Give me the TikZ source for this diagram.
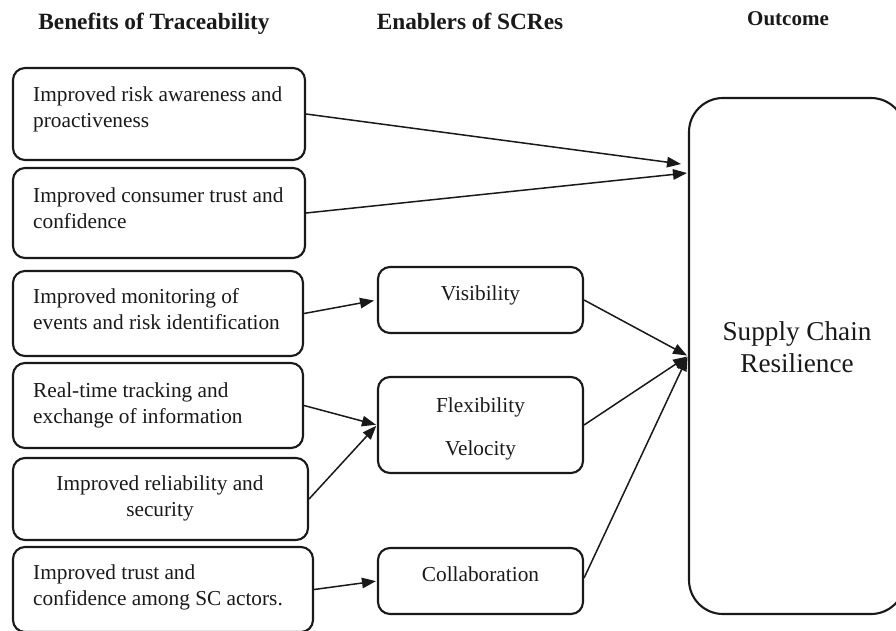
\documentclass[tikz,border=0pt]{standalone}
\usepackage{fontspec}
\setmainfont{Liberation Serif}
\usetikzlibrary{arrows.meta}
\begin{document}
\begin{tikzpicture}[x=1pt,y=-1pt,
  box/.style={draw=black!90, line width=2.1pt, rounded corners=12pt, inner sep=0pt},
  bigbox/.style={draw=black!90, line width=2.1pt, rounded corners=34pt, inner sep=0pt},
  conn/.style={draw=black!90, line width=1.5pt, -{Triangle[length=14pt,width=10.5pt]}},
  body/.style={inner sep=0pt, text=black!90, font=\fontsize{21.3}{26}\selectfont},
  head/.style={inner sep=0pt, anchor=base, text=black!90, font=\fontsize{23.3}{26}\selectfont\bfseries}]
\useasboundingbox (0,0) rectangle (896,630);

% headers
\node[head] (h1) at (154,29) {Benefits of Traceability};
\node[head] (h2) at (470,29) {Enablers of SCRes};
\node[head, font=\fontsize{21}{26}\selectfont\bfseries] (h3) at (788,25) {Outcome};

% left boxes
\node[box, minimum width=292pt, minimum height=92pt] (b1) at (159,114) {};
\node[box, minimum width=292pt, minimum height=90pt] (b2) at (159,213) {};
\node[box, minimum width=290pt, minimum height=85pt] (b3) at (158,313.5) {};
\node[box, minimum width=290pt, minimum height=85pt] (b4) at (158,405.5) {};
\node[box, minimum width=295pt, minimum height=82pt] (b5) at (160.5,499) {};
\node[box, minimum width=300pt, minimum height=85pt] (b6) at (163,589.5) {};

\node[body, anchor=base west] (t1) at (33,101) {\begin{tabular}[t]{@{}l@{}}Improved risk awareness and\\proactiveness\end{tabular}};
\node[body, anchor=base west] (t2) at (33,202) {\begin{tabular}[t]{@{}l@{}}Improved consumer trust and\\confidence\end{tabular}};
\node[body, anchor=base west] (t3) at (33,303) {\begin{tabular}[t]{@{}l@{}}Improved monitoring of\\events and risk identification\end{tabular}};
\node[body, anchor=base west] (t4) at (33,397) {\begin{tabular}[t]{@{}l@{}}Real-time tracking and\\exchange of information\end{tabular}};
\node[body, anchor=base] (t5) at (160,490) {\begin{tabular}[t]{@{}c@{}}Improved reliability and\\security\end{tabular}};
\node[body, anchor=base west] (t6) at (33,579) {\begin{tabular}[t]{@{}l@{}}Improved trust and\\confidence among SC actors.\end{tabular}};

% middle boxes
\node[box, minimum width=205pt, minimum height=66pt] (vis) at (480.5,300) {};
\node[box, minimum width=205pt, minimum height=96pt] (flex) at (480.5,425) {};
\node[box, minimum width=205pt, minimum height=66pt] (collab) at (480.5,581) {};

\node[body, anchor=base] (tv) at (480.5,300) {Visibility};
\node[body, anchor=base] (tf) at (480.5,412) {\begin{tabular}[t]{@{}c@{}}Flexibility\\[17pt]Velocity\end{tabular}};
\node[body, anchor=base] (tc) at (480.5,581) {Collaboration};

% outcome box
\node[bigbox, minimum width=216pt, minimum height=516pt] (scr) at (797,356) {};
\node[body, anchor=base, font=\fontsize{27.2}{32}\selectfont] (ts) at (797,340) {\begin{tabular}[t]{@{}c@{}}Supply Chain\\Resilience\end{tabular}};

% targets on the outcome box
\coordinate (in1) at (681,164);
\coordinate (in2) at (687,173);

% connectors
\draw[conn] (b1.east) -- (in1);
\draw[conn] (b2.east) -- (in2);
\draw[conn, shorten >=3pt] (b3.east) -- (vis.west);
\draw[conn, shorten >=1pt] (b4.east) -- (flex.west);
\draw[conn, shorten >=1pt] (b5.east) -- (flex.west);
\draw[conn, shorten >=1pt] (b6.east) -- (collab.west);
\draw[conn, shorten >=1pt] (vis.east) -- (scr.west);
\draw[conn, shorten >=1pt] (flex.east) -- (scr.west);
\draw[conn, shorten >=1pt] ([yshift=3pt]collab.east) -- (scr.west);
\end{tikzpicture}
\end{document}
